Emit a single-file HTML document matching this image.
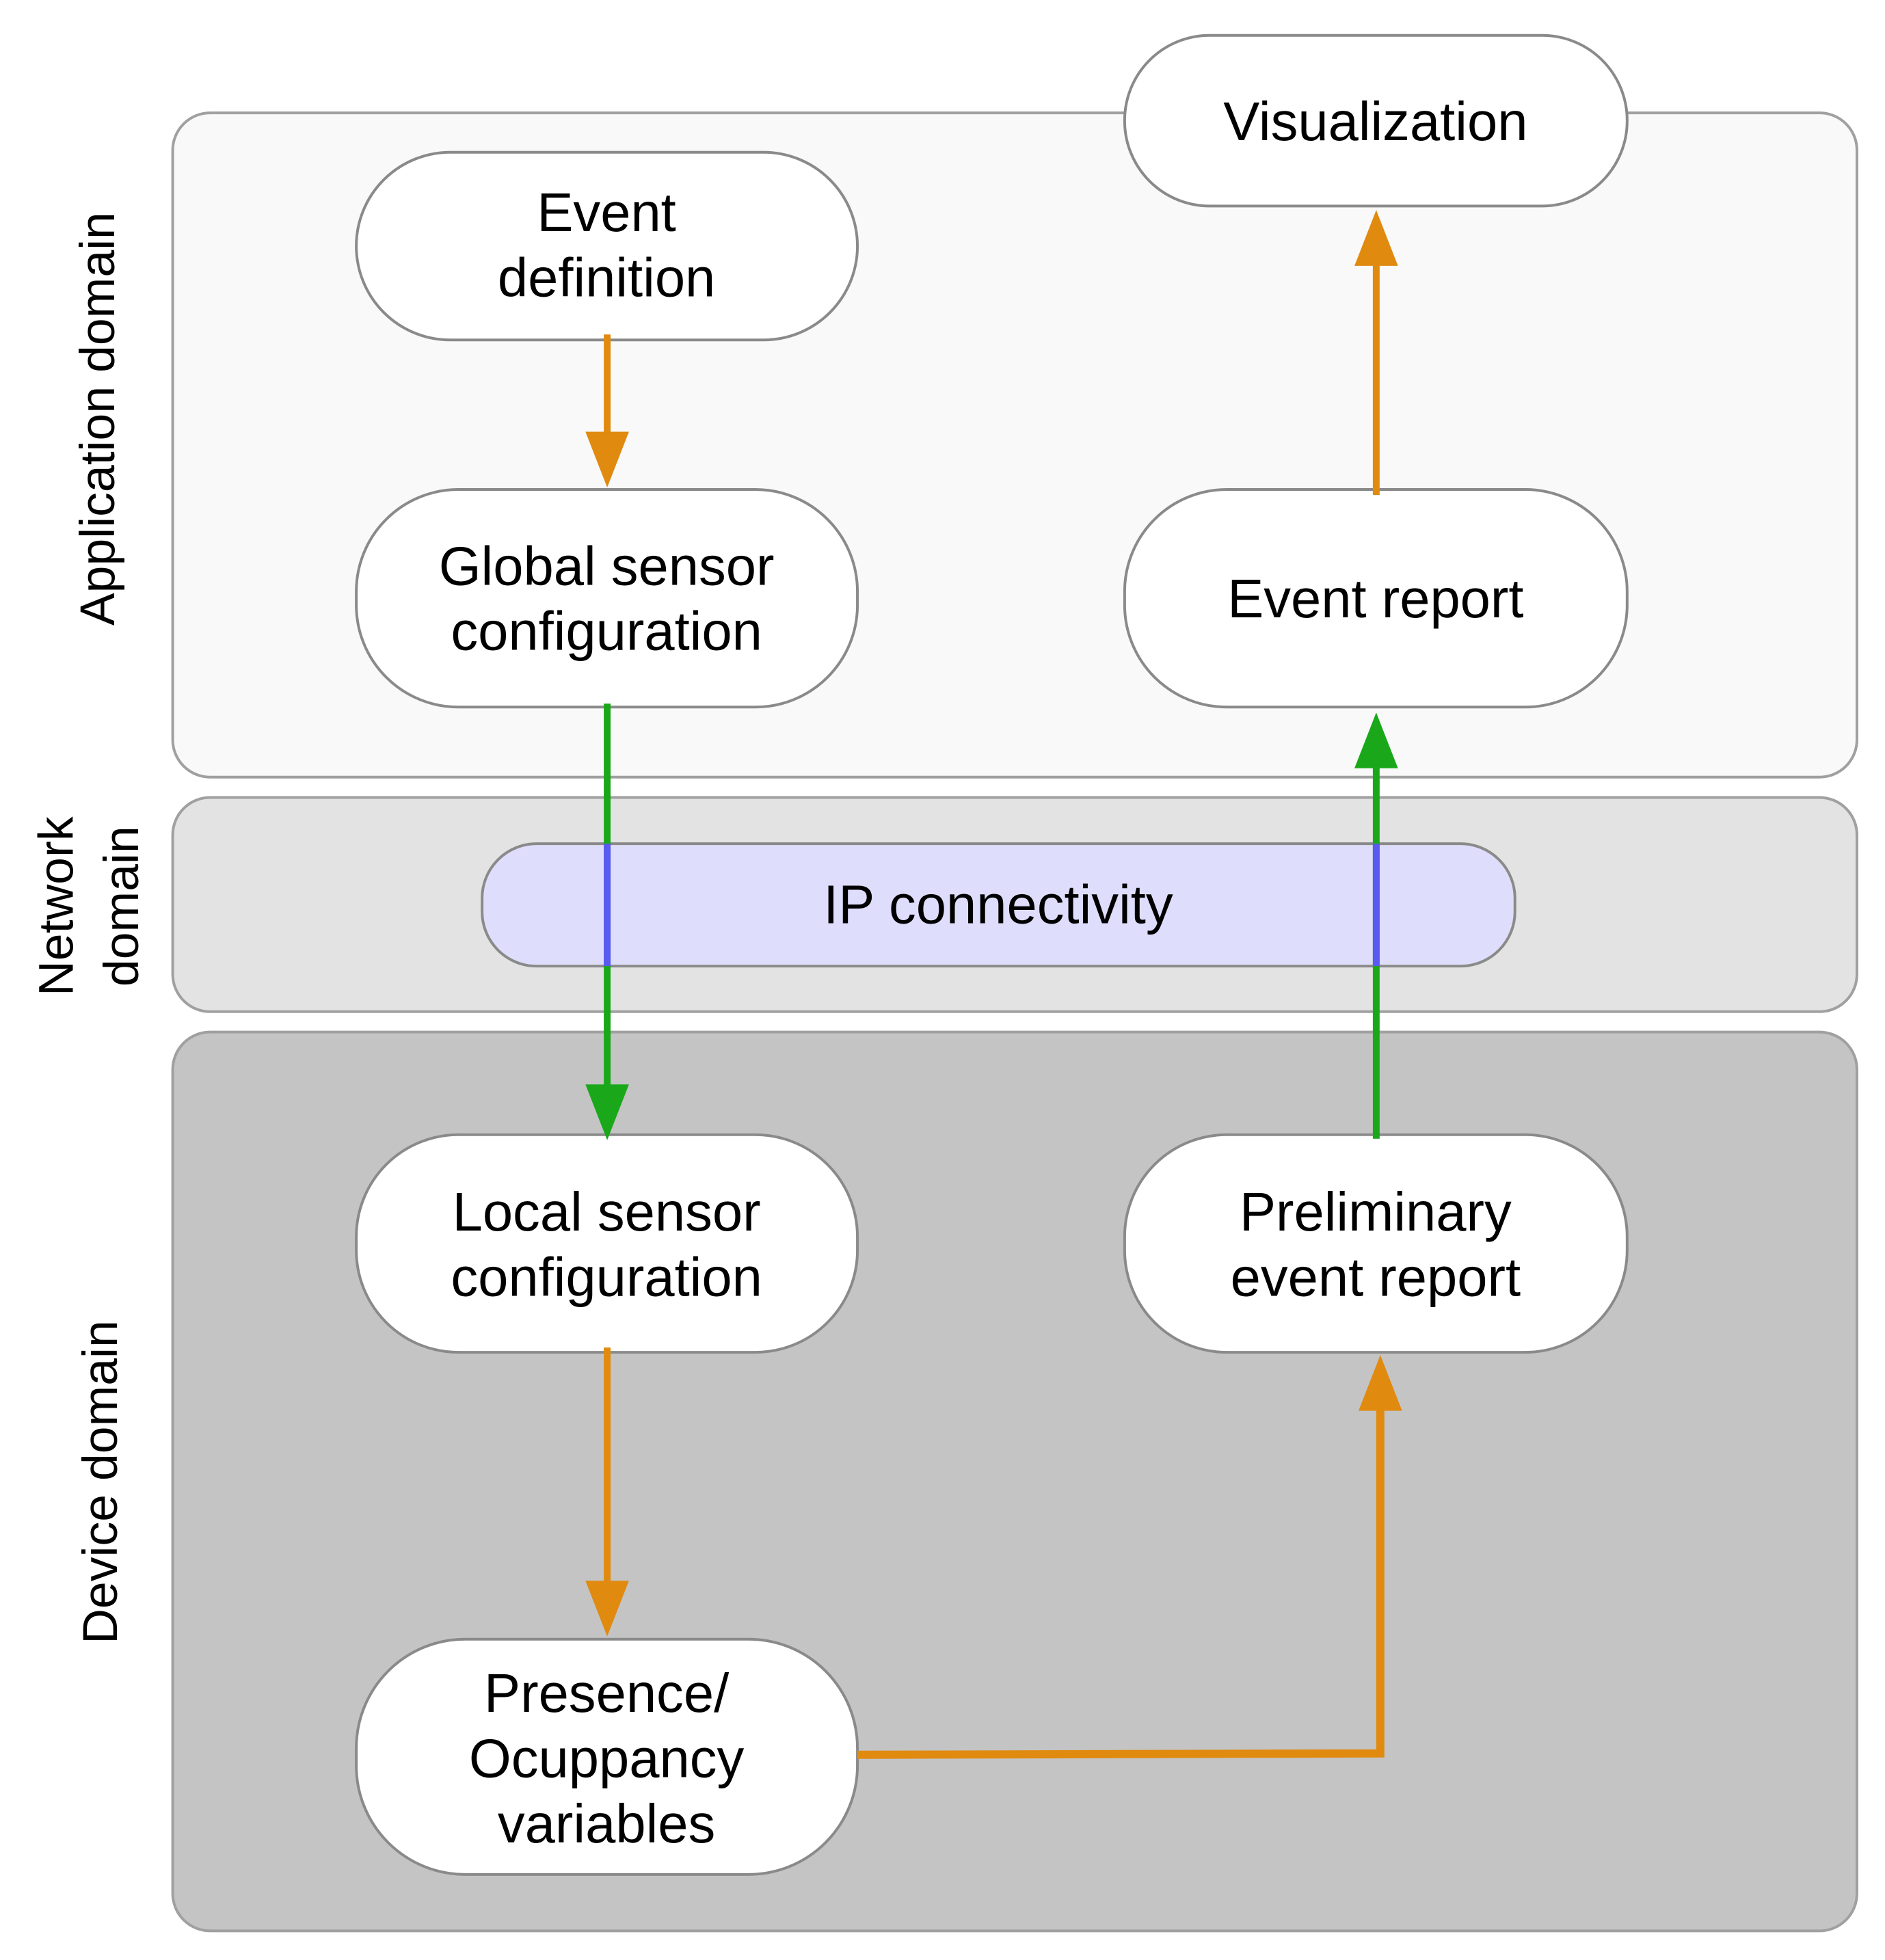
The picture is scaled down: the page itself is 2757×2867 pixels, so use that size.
<!DOCTYPE html>
<html><head><style>body{margin:0;background:#fff}</style></head><body>
<svg width="2757" height="2862" viewBox="0 0 2757 2862" xmlns="http://www.w3.org/2000/svg" font-family="Liberation Sans, sans-serif">
<g transform="scale(0.9945)">
<rect x="254" y="166" width="2477" height="977" rx="55" fill="#f9f9f9" stroke="#a0a0a0" stroke-width="4"/>
<rect x="254" y="1173" width="2477" height="315" rx="55" fill="#e3e3e3" stroke="#a0a0a0" stroke-width="4"/>
<rect x="254" y="1518" width="2477" height="1322" rx="55" fill="#c4c4c4" stroke="#a0a0a0" stroke-width="4"/>
<g font-size="72" fill="#000" text-anchor="middle">
<text transform="translate(168,616) rotate(-90)">Application domain</text>
<text transform="translate(107,1333) rotate(-90)">Network</text>
<text transform="translate(203,1333) rotate(-90)">domain</text>
<text transform="translate(172,2180) rotate(-90)">Device domain</text>
</g>
<g fill="#fff" stroke="#8a8a8a" stroke-width="4">
<rect x="1654" y="52" width="739" height="251" rx="125"/>
<rect x="524" y="224" width="737" height="276" rx="138"/>
<rect x="524" y="720" width="737" height="320" rx="150"/>
<rect x="1654" y="720" width="739" height="320" rx="150"/>
<rect x="524" y="1669" width="737" height="320" rx="150"/>
<rect x="1654" y="1669" width="739" height="320" rx="150"/>
<rect x="524" y="2411" width="737" height="346" rx="160"/>
</g>
<rect x="709" y="1241" width="1519" height="180" rx="80" fill="#dedefc" stroke="#8a8a8a" stroke-width="4"/>
<g stroke-width="10" fill="none">
<line x1="893" y1="492" x2="893" y2="640" stroke="#e08a10"/>
<line x1="2024" y1="728" x2="2024" y2="388" stroke="#e08a10"/>
<line x1="893" y1="1035" x2="893" y2="1600" stroke="#1aa81a"/>
<line x1="2024" y1="1675" x2="2024" y2="1125" stroke="#1aa81a"/>
<line x1="893" y1="1241" x2="893" y2="1421" stroke="#5a5af0"/>
<line x1="2024" y1="1241" x2="2024" y2="1421" stroke="#5a5af0"/>
<line x1="893" y1="1982" x2="893" y2="2330" stroke="#e08a10"/>
<polyline points="1261,2581 2030,2579 2030,2070" stroke="#e08a10" stroke-width="12"/>
</g>
<g>
<polygon points="861,635 925,635 893,717" fill="#e08a10"/>
<polygon points="1992,391 2056,391 2024,309" fill="#e08a10"/>
<polygon points="861,1595 925,1595 893,1677" fill="#1aa81a"/>
<polygon points="1992,1130 2056,1130 2024,1048" fill="#1aa81a"/>
<polygon points="861,2325 925,2325 893,2407" fill="#e08a10"/>
<polygon points="1998,2075 2062,2075 2030,1993" fill="#e08a10"/>
</g>
<g font-size="80" fill="#000" text-anchor="middle">
<text x="2023" y="206">Visualization</text>
<text x="892" y="340">Event</text>
<text x="892" y="436">definition</text>
<text x="892" y="860">Global sensor</text>
<text x="892" y="956">configuration</text>
<text x="2023" y="908">Event report</text>
<text x="1468" y="1358">IP connectivity</text>
<text x="892" y="1810">Local sensor</text>
<text x="892" y="1906">configuration</text>
<text x="2023" y="1810">Preliminary</text>
<text x="2023" y="1906">event report</text>
<text x="892" y="2518">Presence/</text>
<text x="892" y="2614">Ocuppancy</text>
<text x="892" y="2710">variables</text>
</g>
</g>
</svg>
</body></html>
